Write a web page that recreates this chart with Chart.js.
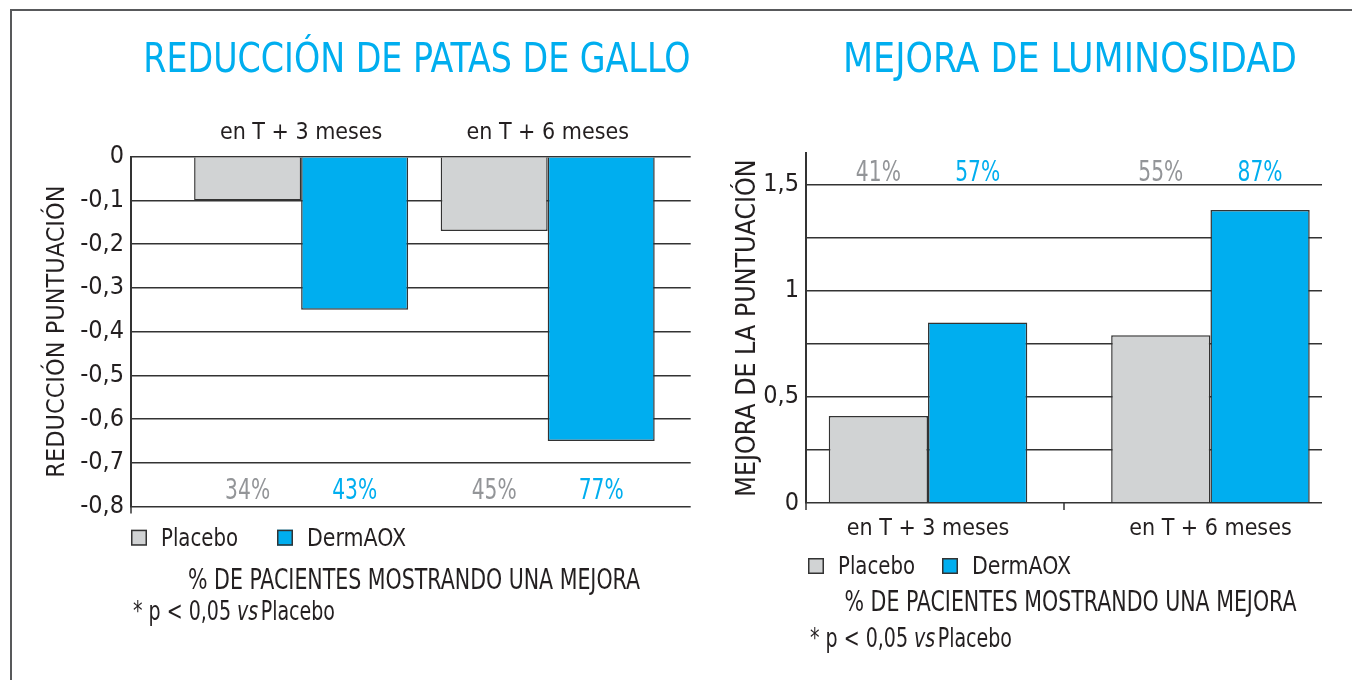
<!DOCTYPE html>
<html>
<head>
<meta charset="utf-8">
<title>DermAOX</title>
<script src="https://cdn.jsdelivr.net/npm/chart.js@4.4.1/dist/chart.umd.min.js"></script>
<style>
    html, body { margin: 0; padding: 0; background: #fff; }
    #pagina { position: relative; width: 1352px; height: 680px; overflow: hidden; }
    #marco { position: absolute; left: 10px; top: 9px; width: 1400px; height: 700px;
             border-left: 2px solid #58595b; border-top: 2px solid #58595b; }
    #izq { position: absolute; left: 0; top: 0; }
    #der { position: absolute; left: 700px; top: 0; }
</style>
</head>
<body>
<div id="pagina">
    <div id="marco"></div>
    <canvas id="izq" width="700" height="680"></canvas>
    <canvas id="der" width="652" height="680"></canvas>
</div>
<script>
// datos
var categorias = ['en T + 3 meses', 'en T + 6 meses'];
var series = ['Placebo', 'DermAOX'];

var patasPlacebo = [-0.10, -0.17];
var patasDermAOX = [-0.35, -0.65];
var patasPctPlacebo = ['34%', '45%'];
var patasPctDermAOX = ['43%', '77%'];
var patasTicks = [0, -0.1, -0.2, -0.3, -0.4, -0.5, -0.6, -0.7, -0.8];

var lumPlacebo = [0.41, 0.79];
var lumDermAOX = [0.85, 1.38];
var lumPctPlacebo = ['41%', '55%'];
var lumPctDermAOX = ['57%', '87%'];
var lumTicks = [0, 0.25, 0.5, 0.75, 1, 1.25, 1.5];

var FUENTE = "'DejaVu Sans Condensed', 'Liberation Sans', sans-serif";
var TINTA = '#231f20';
var AZUL = '#00aeef';
var GRIS = '#d1d3d4';
var GRIS_TEXTO = '#939598';
var LINEA = '#333333';

function puntos(valores) {
    return valores.map(function (v, i) { return { x: i, y: v }; });
}

function coma(v) {
    return String(v).replace('.', ',');
}

// texto con ancho máximo (se comprime como la tipografía condensada del original)
function texto(ctx, str, x, y, size, color, align, ancho) {
    ctx.save();
    ctx.font = size + 'px ' + FUENTE;
    ctx.fillStyle = color;
    ctx.textAlign = align || 'left';
    ctx.textBaseline = 'alphabetic';
    if (ancho) ctx.fillText(str, x, y, ancho); else ctx.fillText(str, x, y);
    ctx.restore();
}

function nota(ctx, x, y, ancho) {
    var normal = '26px ' + FUENTE;
    var cursiva = 'italic 26px ' + FUENTE;
    ctx.save();
    ctx.fillStyle = TINTA;
    ctx.textBaseline = 'alphabetic';
    ctx.textAlign = 'left';
    ctx.font = normal;
    var a = ctx.measureText('* p < 0,05 ').width;
    var c = ctx.measureText('Placebo').width;
    ctx.font = cursiva;
    var b = ctx.measureText('vs').width + 3;
    var k = Math.min(1, ancho / (a + b + c));
    ctx.translate(x, y);
    ctx.scale(k, 1);
    ctx.font = normal;
    ctx.fillText('* p < 0,05 ', 0, 0);
    ctx.fillText('Placebo', a + b, 0);
    ctx.font = cursiva;
    ctx.fillText('vs', a, 0);
    ctx.restore();
}

// titulo, porcentajes, leyenda y notas
var rotulos = {
    id: 'rotulos',
    afterDraw: function (chart, args, o) {
        var ctx = chart.ctx;
        var area = chart.chartArea;
        var yScale = chart.scales.y;
        var centro = (area.left + area.right) / 2;

        texto(ctx, o.titulo, centro + 6, 72, 40, AZUL, 'center', o.tituloAncho);

        // porcentajes de pacientes
        var yPct = yScale.getPixelForValue(o.pctEn);
        [o.pctPlacebo, o.pctDermAOX].forEach(function (lista, d) {
            var meta = chart.getDatasetMeta(d);
            lista.forEach(function (t, i) {
                texto(ctx, t, meta.data[i].x, yPct, 28, d === 0 ? GRIS_TEXTO : AZUL, 'center', 45);
            });
        });

        // prolongaciones del eje
        ctx.save();
        ctx.strokeStyle = LINEA;
        ctx.lineWidth = 1.5;
        ctx.beginPath();
        ctx.moveTo(area.left, area.bottom);
        ctx.lineTo(area.left, area.bottom + 7);
        if (o.marcaCentro) {
            ctx.moveTo(centro, area.bottom);
            ctx.lineTo(centro, area.bottom + 7);
        }
        ctx.stroke();
        ctx.restore();

        // leyenda
        var colores = [GRIS, AZUL];
        var anchos = [77, 99];
        series.forEach(function (s, d) {
            var x = o.leyendaX[d];
            ctx.save();
            ctx.fillStyle = colores[d];
            ctx.strokeStyle = LINEA;
            ctx.lineWidth = 1.5;
            ctx.fillRect(x, o.leyendaY - 16, 16, 16);
            ctx.strokeRect(x + 0.75, o.leyendaY - 15.25, 14.5, 14.5);
            ctx.restore();
            texto(ctx, s, x + 30, o.leyendaY, 25, TINTA, 'left', anchos[d]);
        });

        texto(ctx, '% DE PACIENTES MOSTRANDO UNA MEJORA', o.subX, o.subY, 29, TINTA, 'center', 452);
        nota(ctx, o.notaX, o.notaY, 202);
    }
};

function crearGrafico(id, c) {
    var ctx = document.getElementById(id).getContext('2d');
    return new Chart(ctx, {
        type: 'bar',
        data: {
            datasets: [{
                label: series[0],
                data: puntos(c.placebo),
                backgroundColor: GRIS,
                borderColor: LINEA,
                borderWidth: 1.5
            }, {
                label: series[1],
                data: puntos(c.dermaox),
                backgroundColor: AZUL,
                borderColor: LINEA,
                borderWidth: 1.5
            }]
        },
        options: {
            responsive: false,
            animation: false,
            layout: { padding: c.padding },
            datasets: { bar: { categoryPercentage: c.catPct, barPercentage: 1 } },
            scales: {
                x: {
                    type: 'linear',
                    position: c.xPos,
                    min: c.xMin,
                    max: c.xMax,
                    bounds: 'data',
                    offset: false,
                    grid: { display: false, drawTicks: false },
                    border: { display: false },
                    afterBuildTicks: function (s) {
                        s.ticks = categorias.map(function (cat, i) { return { value: i }; });
                    },
                    afterFit: function (s) { s.height = 40; },
                    ticks: {
                        autoSkip: false,
                        maxRotation: 0,
                        padding: c.xPad,
                        color: TINTA,
                        font: { family: FUENTE, size: 23 },
                        callback: function (v) { return categorias[v]; }
                    }
                },
                y: {
                    min: c.yMin,
                    max: c.yMax,
                    afterBuildTicks: function (s) {
                        s.ticks = c.ticks.map(function (v) { return { value: v }; });
                    },
                    afterFit: function (s) { s.width = c.yAncho; },
                    grid: { color: LINEA, lineWidth: 1.5, drawTicks: false },
                    border: { display: true, color: LINEA, width: 2 },
                    ticks: {
                        autoSkip: false,
                        padding: 7,
                        color: TINTA,
                        font: { family: FUENTE, size: 25 },
                        callback: c.etiqueta
                    },
                    title: {
                        display: true,
                        text: c.yTitulo,
                        color: TINTA,
                        font: { family: FUENTE, size: c.yTituloSize },
                        padding: { top: c.yTituloPad, bottom: 0 }
                    }
                }
            },
            plugins: {
                legend: { display: false },
                tooltip: { enabled: false },
                rotulos: c.rotulos
            }
        },
        plugins: [rotulos]
    });
}

document.addEventListener('DOMContentLoaded', function () {
    crearGrafico('izq', {
        placebo: patasPlacebo,
        dermaox: patasDermAOX,
        ticks: patasTicks,
        etiqueta: function (v) { return coma(v); },
        yTitulo: 'REDUCCIÓN PUNTUACIÓN',
        yTituloSize: 25,
        yTituloPad: 42,
        yMin: -0.8, yMax: 0,
        xMin: -0.69, xMax: 1.58,
        xPos: 'top', xPad: 9.9,
        catPct: 0.868,
        yAncho: 131,
        padding: { left: 0, right: 9.3, top: 116.7, bottom: 173.5 },
        rotulos: {
            titulo: 'REDUCCIÓN DE PATAS DE GALLO', tituloAncho: 547,
            pctPlacebo: patasPctPlacebo, pctDermAOX: patasPctDermAOX, pctEn: -0.783,
            marcaCentro: false,
            leyendaX: [131, 277], leyendaY: 545.7,
            subX: 414, subY: 589,
            notaX: 133, notaY: 620
        }
    });

    crearGrafico('der', {
        placebo: lumPlacebo,
        dermaox: lumDermAOX,
        ticks: lumTicks,
        etiqueta: function (v) { return (v * 2) % 1 === 0 ? coma(v) : ''; },
        yTitulo: 'MEJORA DE LA PUNTUACIÓN',
        yTituloSize: 26.5,
        yTituloPad: 32,
        yMin: 0, yMax: 1.648,
        xMin: -0.432, xMax: 1.395,
        xPos: 'bottom', xPad: 11.8,
        catPct: 0.703,
        yAncho: 106,
        padding: { left: 0, right: 30, top: 153, bottom: 137 },
        rotulos: {
            titulo: 'MEJORA DE LUMINOSIDAD', tituloAncho: 454,
            pctPlacebo: lumPctPlacebo, pctDermAOX: lumPctDermAOX, pctEn: 1.514,
            marcaCentro: true,
            leyendaX: [108, 242], leyendaY: 574,
            subX: 370.5, subY: 611,
            notaX: 110, notaY: 646.7
        }
    });
});
</script>
</body>
</html>
